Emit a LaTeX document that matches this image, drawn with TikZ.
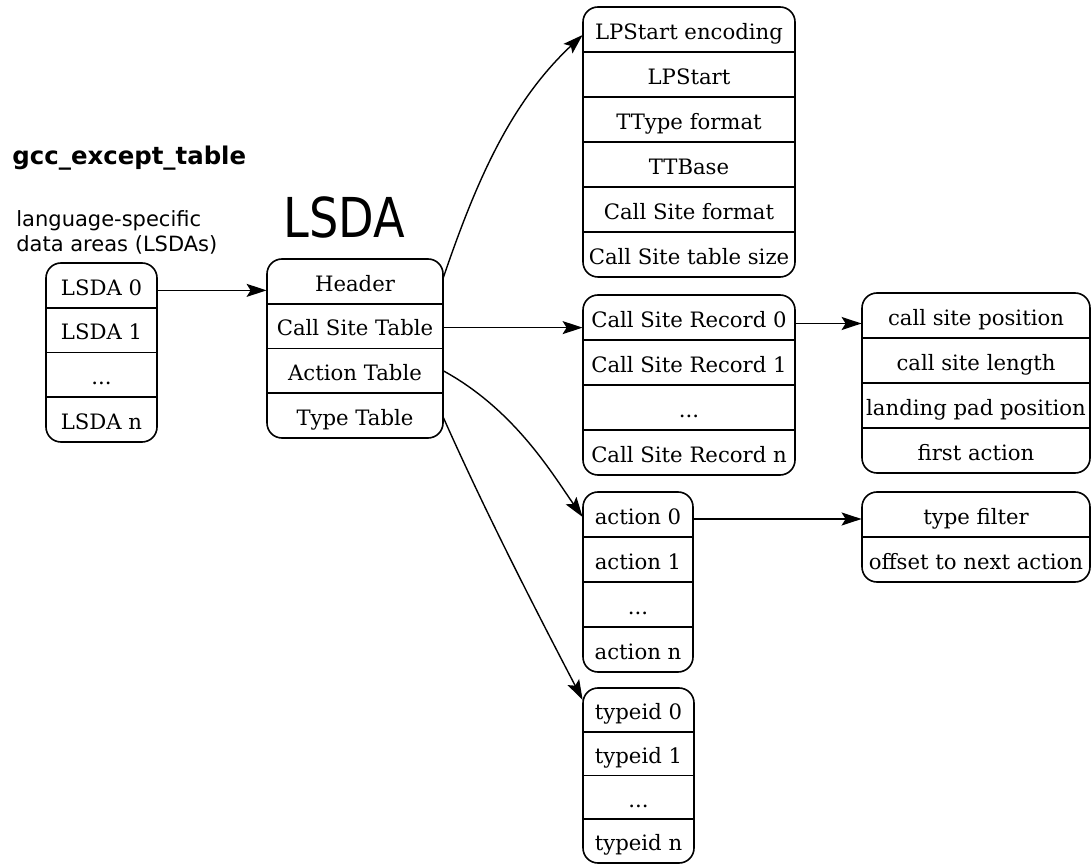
\documentclass[tikz,border=0pt]{standalone}
\usepackage{fontspec}
\setmainfont{DejaVu Serif}
\newfontfamily\dvsans{DejaVu Sans}
\usetikzlibrary{arrows.meta}
\newcommand\mydots{...}
\newcommand\myrec[6]{%
  \foreach \mytxt [count=\i] in {#6}{%
    \node[cell, minimum width={(#3-#2)*0.5pt}, minimum height={#5*0.5pt}] (#1\i) at ({(#2+#3)/2},{#4+(\i-0.5)*#5}) {\mytxt};
    \ifnum\i>1 \draw[rec] (#2,{#4+(\i-1)*#5}) -- (#3,{#4+(\i-1)*#5});\fi
  }%
}
\tikzset{
  cell/.style={inner sep=0pt, text height=10pt, text depth=0.3pt, font=\fontsize{10.6}{12}\selectfont},
  rec/.style={line width=0.8pt},
  outline/.style={line width=0.8pt, rounded corners=7.5pt},
  arr/.style={-{Stealth[length=10pt,width=6.5pt,inset=2pt]}, line width=0.7pt},
}
\begin{document}
\begin{tikzpicture}[x=0.5pt,y=-0.5pt]
\useasboundingbox (0,0) rectangle (1092,865);
% titles
\node[anchor=base west, inner sep=0pt, font=\dvsans\bfseries\fontsize{12.2}{14}\selectfont] (title) at (12,165) {gcc\_except\_table};
\node[anchor=base west, inner sep=0pt, font=\dvsans\fontsize{27.5}{30}\selectfont] (lsdatitle) at (283,238) {\scalebox{0.84}[1]{LSDA}};
\node[anchor=base west, inner sep=0pt, font=\dvsans\fontsize{10.5}{12}\selectfont] (lang1) at (16,227) {language-specific};
\node[anchor=base west, inner sep=0pt, font=\dvsans\fontsize{10.5}{12}\selectfont] (lang2) at (16,252) {data areas (LSDAs)};
% records
\myrec{L}{46}{157}{263}{44.75}{LSDA 0,LSDA 1,\mydots,LSDA n}
\draw[outline] (46,263) rectangle (157,442);
\myrec{M}{267}{443}{259}{44.75}{Header,Call Site Table,Action Table,Type Table}
\draw[outline] (267,259) rectangle (443,438);
\myrec{H}{583}{795}{7}{45}{LPStart encoding,LPStart,TType format,TTBase,Call Site format,Call Site table size}
\draw[outline] (583,7) rectangle (795,277);
\myrec{C}{583}{795}{295}{45}{Call Site Record 0,Call Site Record 1,\mydots,Call Site Record n}
\draw[outline] (583,295) rectangle (795,475);
\myrec{R}{862}{1090}{293}{45}{call site position,call site length,landing pad position,first action}
\draw[outline] (862,293) rectangle (1090,473);
\myrec{A}{583}{693}{492}{45}{action 0,action 1,\mydots,action n}
\draw[outline] (583,492) rectangle (693,672);
\myrec{F}{862}{1090}{492}{45}{type filter,offset to next action}
\draw[outline] (862,492) rectangle (1090,582);
\myrec{T}{583}{694}{688}{43.75}{typeid 0,typeid 1,\mydots,typeid n}
\draw[outline] (583,688) rectangle (694,863);
% connectors
\draw[arr] ([yshift=-2.5pt]L1.east) -- ([yshift=-2.5pt]L1.east -| M1.west);
\draw[arr] ([yshift=2pt]M1.east) .. controls (476,182) and (510,103) .. ([yshift=-2.75pt]H1.west);
\draw[arr] ([yshift=-0.75pt]M2.east) -- ([yshift=-0.75pt]M2.east -| C1.west);
\draw[arr] (M3.east) .. controls (515,410) and (553,475) .. ([yshift=-1.25pt]A1.west);
\draw[arr] ([yshift=-1pt]M4.east) .. controls (488,518) and (542,622) .. ([yshift=5pt]T1.west);
\draw[arr] ([yshift=-3pt]C1.east) -- ([yshift=-3pt]C1.east -| R1.west);
\draw[arr] ([yshift=-2.25pt]A1.east) -- ([yshift=-2.25pt]A1.east -| F1.west);
\end{tikzpicture}
\end{document}
